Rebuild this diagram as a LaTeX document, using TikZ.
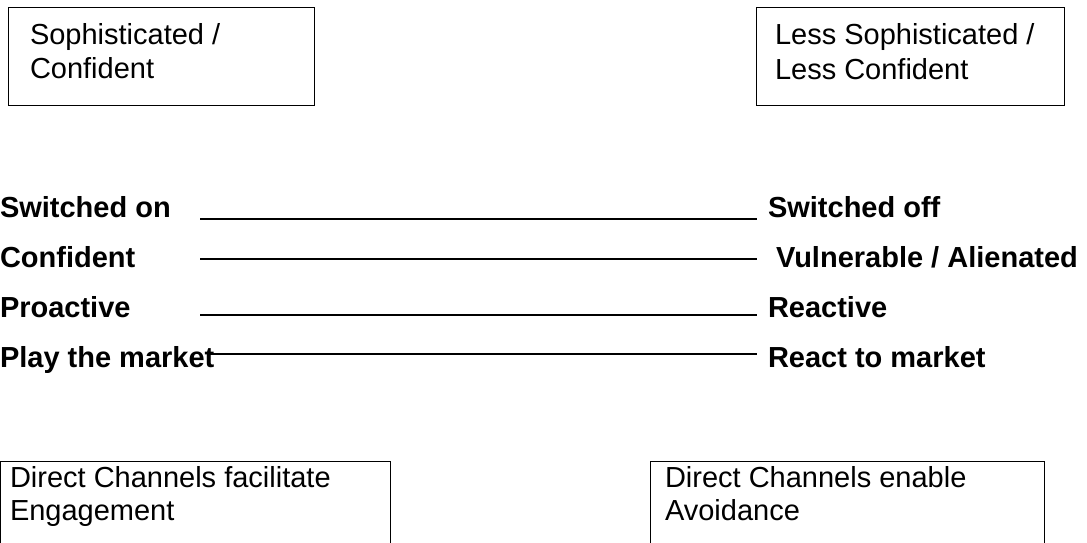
\documentclass[tikz,border=0pt]{standalone}
\usepackage{fontspec}
\setmainfont{Liberation Sans}
\begin{document}
\begin{tikzpicture}[x=1pt,y=-1pt,
  boxshape/.style={draw, line width=1pt, anchor=north west, inner sep=0pt, outer sep=0pt},
  lbl/.style={anchor=base west, inner sep=0pt, outer sep=0pt, font=\fontsize{29}{33}\selectfont},
  blbl/.style={anchor=base west, inner sep=0pt, outer sep=0pt, font=\fontsize{29}{33}\selectfont\bfseries},
  rulestyle/.style={line width=1.3pt}]
\clip (0,0) rectangle (1087,543);
\fill[white] (0,0) rectangle (1087,543);
% top boxes
\node[boxshape, minimum width=306pt, minimum height=97pt] (b1) at (8,8) {};
\node[lbl] (b1t1) at (30,45) {Sophisticated /};
\node[lbl] (b1t2) at (30,78) {Confident};
\node[boxshape, minimum width=308pt, minimum height=97pt] (b2) at (756,8) {};
\node[lbl] (b2t1) at (775,45) {Less Sophisticated /};
\node[lbl] (b2t2) at (775,79) {Less Confident};
% left labels
\node[blbl] (l1) at (0,217) {Switched on};
\node[blbl] (l2) at (0,267) {Confident};
\node[blbl] (l3) at (0,317) {Proactive};
\node[blbl] (l4) at (0,367) {Play the market};
% right labels
\node[blbl] (r1) at (768,217) {Switched off};
\node[blbl] (r2) at (776,267) {Vulnerable / Alienated};
\node[blbl] (r3) at (768,317) {Reactive};
\node[blbl] (r4) at (768,367) {React to market};
% rules
\coordinate (a1) at (200,219); \coordinate (e1) at (757,219);
\coordinate (a2) at (200,259); \coordinate (e2) at (757,259);
\coordinate (a3) at (200,315); \coordinate (e3) at (757,315);
\coordinate (a4) at (207,354); \coordinate (e4) at (757,354);
\draw[rulestyle] (a1) -- (e1);
\draw[rulestyle] (a2) -- (e2);
\draw[rulestyle] (a3) -- (e3);
\draw[rulestyle] (a4) -- (e4);
% bottom boxes (cut by the page edge)
\node[boxshape, minimum width=389.5pt, minimum height=110pt] (b3) at (0.5,461) {};
\node[lbl] (b3t1) at (10,487) {Direct Channels facilitate};
\node[lbl] (b3t2) at (10,520) {Engagement};
\node[boxshape, minimum width=394pt, minimum height=110pt] (b4) at (650,461) {};
\node[lbl] (b4t1) at (665,487) {Direct Channels enable};
\node[lbl] (b4t2) at (665,520) {Avoidance};
\end{tikzpicture}
\end{document}
